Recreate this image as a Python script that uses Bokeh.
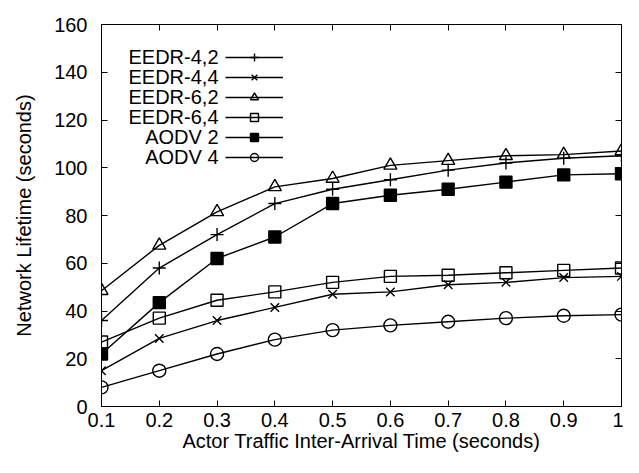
from bokeh.plotting import figure
from bokeh.models import (Legend, LegendItem, Label, LinearAxis, FixedTicker,
                          Range1d, CustomJSTickFormatter)
from bokeh.embed import file_html
from bokeh.resources import INLINE

# ---- data ----
x_values = [0.1, 0.2, 0.3, 0.4, 0.5, 0.6, 0.7, 0.8, 0.9, 1.0]
x_tick_labels = ["0.1", "0.2", "0.3", "0.4", "0.5", "0.6", "0.7", "0.8", "0.9", "1"]
y_ticks = [0, 20, 40, 60, 80, 100, 120, 140, 160]

eedr_4_2 = [36, 58, 72, 85, 91, 95, 99, 102, 104, 105]
eedr_4_4 = [15, 28.5, 36, 41.5, 47, 48, 51, 52, 54, 54.5]
eedr_6_2 = [48.5, 67.5, 81.5, 92, 95.5, 101, 103, 105, 105.5, 107]
eedr_6_4 = [27, 37, 44.5, 48, 52, 54.5, 55, 56, 57, 58]
aodv_2 = [22, 43.5, 62, 71, 85, 88.5, 91, 94, 97, 97.5]
aodv_4 = [8, 15, 22, 28, 32, 34, 35.5, 37, 38, 38.5]

series_names = ["EEDR-4,2", "EEDR-4,4", "EEDR-6,2", "EEDR-6,4", "AODV 2", "AODV 4"]
series_values = [eedr_4_2, eedr_4_4, eedr_6_2, eedr_6_4, aodv_2, aodv_4]
series_markers = ["cross", "x", "triangle", "square", "square", "circle"]
series_filled = [False, False, False, False, True, False]
marker_sizes = {"cross": 13, "x": 12, "triangle": 13, "square": 12, "circle": 13}

FONT = "Liberation Sans"
FS = "20px"

p = figure(width=623, height=457, output_backend="svg", toolbar_location=None,
           x_range=Range1d(0.1, 1.0), y_range=Range1d(0, 160),
           min_border_left=101, min_border_right=2, min_border_top=24,
           min_border_bottom=51, background_fill_color="white",
           border_fill_color="white")
p.grid.visible = False
p.outline_line_color = "black"
p.outline_line_width = 1

overrides = {x: lab for x, lab in zip(x_values, x_tick_labels)}

def style_axis(ax):
    ax.axis_line_color = "black"
    ax.major_tick_line_color = "black"
    ax.major_tick_in = 6
    ax.major_tick_out = 0
    ax.minor_tick_line_color = None
    ax.major_label_text_font = FONT
    ax.major_label_text_font_size = FS
    ax.major_label_text_color = "black"
    ax.axis_label_text_font = FONT
    ax.axis_label_text_font_size = FS
    ax.axis_label_text_font_style = "normal"
    ax.axis_label_text_color = "black"

xa = p.xaxis[0]
xa.ticker = FixedTicker(ticks=x_values)
xa.major_label_overrides = overrides
xa.axis_label = "Actor Traffic Inter-Arrival Time (seconds)"
style_axis(xa)
xa.major_label_standoff = 6
xa.axis_label_standoff = 0

ya = p.yaxis[0]
ya.ticker = FixedTicker(ticks=y_ticks)
ya.axis_label = "Network Lifetime (seconds)"
style_axis(ya)
ya.major_label_standoff = 14
ya.axis_label_standoff = 16

blank = CustomJSTickFormatter(code="return ''")
top = LinearAxis(ticker=FixedTicker(ticks=x_values), formatter=blank)
style_axis(top)
top.major_label_standoff = 0
p.add_layout(top, "above")
right = LinearAxis(ticker=FixedTicker(ticks=y_ticks), formatter=blank)
style_axis(right)
right.major_label_standoff = 0
p.add_layout(right, "right")

items = []
for name, ys, mk, filled in zip(series_names, series_values, series_markers, series_filled):
    rl = p.line(x_values, ys, line_color="black", line_width=1.4)
    rs = p.scatter(x_values, ys, marker=mk, size=marker_sizes[mk],
                   line_color="black", line_width=1.4,
                   fill_color="black" if filled else None)
    items.append(LegendItem(label=" ", renderers=[rl, rs]))

FRAME_BOTTOM = 406
row0 = 56.7
pitch = 20
legend = Legend(items=items, location=(124, FRAME_BOTTOM - (row0 - pitch / 2) - pitch * 6),
                glyph_width=58, glyph_height=pitch, spacing=0, padding=0, margin=0,
                label_width=0, label_standoff=0, label_text_font_size="8px",
                border_line_color=None, background_fill_alpha=0)
p.add_layout(legend)

for i, name in enumerate(series_names):
    yc = row0 + pitch * i
    p.add_layout(Label(x=117, y=FRAME_BOTTOM - yc, x_units="screen", y_units="screen",
                       text=name, text_align="right", text_baseline="middle",
                       text_font=FONT, text_font_size=FS, text_color="black"))

open("out.html", "w").write(file_html(p, INLINE))
